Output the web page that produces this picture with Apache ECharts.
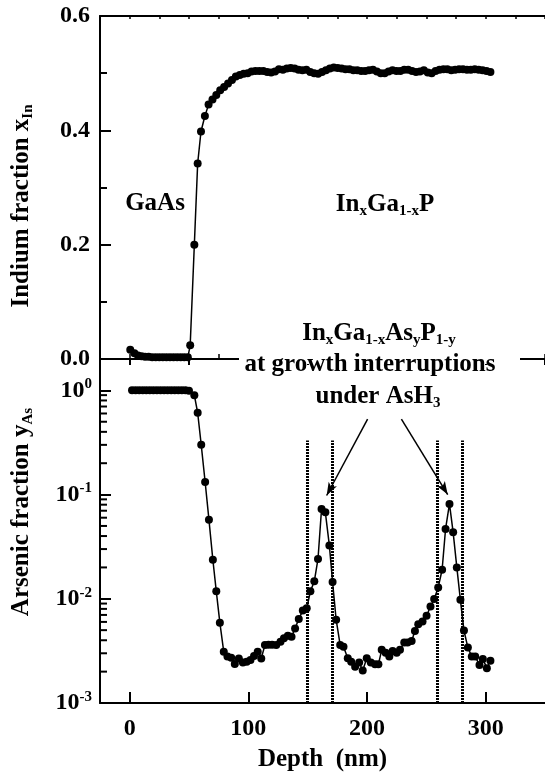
<!DOCTYPE html>
<html>
<head>
<meta charset="utf-8">
<script src="https://cdn.jsdelivr.net/npm/echarts@6/dist/echarts.min.js"></script>
<style>
html, body { margin: 0; padding: 0; background: #fff; }
#chart { width: 545px; height: 780px; }
</style>
</head>
<body>
<div id="chart"></div>
<script>
// 上图: In 含量
var inDepth = [0.5, 4, 7, 10, 13, 16, 19, 22, 25, 28, 31, 34, 37, 40, 43, 46, 49,
    51, 54.5, 57.3, 60.1, 63.4, 66.5,
    69.8, 73, 76.3, 79.6, 82.9, 86.2, 89.5, 92.8, 96.1, 99.4, 102.7, 106, 109.3, 112.6, 115.9, 119.2,
    122.5, 125.8, 129.1, 132.4, 135.7, 139, 142.3, 145.6, 148.9, 152.2, 155.5, 158.8, 162.1, 165.4,
    168.7, 172, 175.3, 178.6, 181.9, 185.2, 188.5, 191.8, 195.1, 198.4, 201.7, 205, 208.3, 211.6,
    214.9, 218.2, 221.5, 224.8, 228.1, 231.4, 234.7, 238, 241.3, 244.6, 247.9, 251.2, 254.5, 257.8,
    261.1, 264.4, 267.7, 271, 274.3, 277.6, 280.9, 284.2, 287.5, 290.8, 294.1, 297.4, 300.7, 304];
var inFraction = [0.016, 0.010, 0.006, 0.005, 0.004, 0.004, 0.003, 0.003, 0.003, 0.003, 0.003, 0.003, 0.003, 0.003, 0.003, 0.003, 0.003,
    0.024, 0.2, 0.342, 0.398, 0.425, 0.445,
    0.454, 0.462, 0.470, 0.476, 0.482, 0.488, 0.494, 0.497, 0.499, 0.500, 0.503, 0.504, 0.504, 0.504, 0.502, 0.501,
    0.503, 0.507, 0.506, 0.508, 0.509, 0.508, 0.506, 0.505, 0.506, 0.502, 0.500, 0.499, 0.502, 0.505,
    0.508, 0.510, 0.509, 0.508, 0.507, 0.507, 0.505, 0.505, 0.504, 0.504, 0.505, 0.506, 0.503, 0.500,
    0.500, 0.503, 0.505, 0.504, 0.504, 0.506, 0.506, 0.504, 0.502, 0.503, 0.505, 0.501, 0.500, 0.504,
    0.506, 0.507, 0.507, 0.505, 0.506, 0.507, 0.507, 0.506, 0.506, 0.507, 0.506, 0.505, 0.504, 0.502];

// 下图: As 含量 (对数)
var asDepth = [2, 5, 8, 11, 14, 17, 20, 23, 26, 29, 32, 35, 38, 41, 44, 47, 50,
    54.5, 57.3, 60.3, 63.6, 66.8, 70.1, 73, 76, 79.3, 82.4, 85.6, 88.6, 92, 95.4, 98.6, 101.8, 104.8,
    107.9, 110.9, 114, 117, 120, 123.5, 127.1, 130, 133.3, 136.4, 139.4, 142.5, 145.9, 149.2, 152.3,
    155.6, 158.7, 161.7, 164.9, 168.3, 171, 174, 177.4, 180.2, 183.8, 186.7, 190, 193.4, 196.4, 199.8,
    203.2, 206.8, 209.6, 212.4, 215.7, 218.8, 221.6, 225, 227.8, 231.4, 234.2, 237.6, 240.4, 243.2,
    246.8, 250.2, 253.5, 256.6, 260, 263.3, 266.2, 269.5, 272.6, 275.7, 278.7, 281.7, 285, 288.3,
    291.2, 294.8, 297.6, 301, 304];
var asFraction = [1, 1, 1, 1, 1, 1, 1, 1, 1, 1, 1, 1, 1, 1, 1, 1, 0.99,
    0.9, 0.61, 0.3, 0.132, 0.0575, 0.0237, 0.0118, 0.0059, 0.0031, 0.0028, 0.00272, 0.00237, 0.00268, 0.00245, 0.00249, 0.00258, 0.00283,
    0.0031, 0.00268, 0.0036, 0.00363, 0.00363, 0.0036, 0.00388, 0.00418, 0.00443, 0.00433, 0.0052, 0.0064, 0.0077, 0.0081, 0.0118,
    0.0147, 0.0241, 0.0729, 0.0676, 0.0324, 0.0145, 0.0063, 0.0036, 0.00347, 0.00269, 0.00249, 0.00223, 0.00245, 0.00205, 0.00269,
    0.00245, 0.00235, 0.00235, 0.00324, 0.00304, 0.00279, 0.00316, 0.00304, 0.00324, 0.0038, 0.0038, 0.00394, 0.00492, 0.00571,
    0.00605, 0.00687, 0.00843, 0.00993, 0.01285, 0.019, 0.0468, 0.0813, 0.0434, 0.02, 0.00977, 0.00496, 0.0034, 0.00279,
    0.00279, 0.00232, 0.00265, 0.00216, 0.00255];

// 生长中断区间边界 (nm)
var interruptionEdges = [150, 171, 259, 280];
// 对数轴次刻度
var logMinorTicks = [0.002, 0.003, 0.004, 0.005, 0.006, 0.007, 0.008, 0.009,
    0.02, 0.03, 0.04, 0.05, 0.06, 0.07, 0.08, 0.09,
    0.2, 0.3, 0.4, 0.5, 0.6, 0.7, 0.8, 0.9];

var FONT = 'Liberation Serif';

function zip(xs, ys) {
    return xs.map(function (x, i) { return [x, ys[i]]; });
}

function axisLineStyle() {
    return {show: true, onZero: false, lineStyle: {color: '#000', width: 2}};
}

function xAxisBase(gridIndex) {
    return {
        type: 'value', gridIndex: gridIndex, min: -25, max: 350,
        splitLine: {show: false}, axisLine: axisLineStyle(),
        axisLabel: {show: false}
    };
}

var chart = echarts.init(document.getElementById('chart'));

var xTopBottom = xAxisBase(0);
xTopBottom.minInterval = 25; xTopBottom.maxInterval = 25;
xTopBottom.axisTick = {inside: true, length: 5, lineStyle: {color: '#000', width: 1.5}};

var xTopTop = xAxisBase(0);
xTopTop.position = 'top';
xTopTop.minInterval = 25; xTopTop.maxInterval = 25;
xTopTop.axisTick = {inside: true, length: 3, lineStyle: {color: '#000', width: 1.5}};

var xBottom = xAxisBase(1);
xBottom.minInterval = 100; xBottom.maxInterval = 100;
xBottom.axisTick = {inside: true, length: 11, lineStyle: {color: '#000', width: 2}};
xBottom.axisLabel = {show: true, showMinLabel: false, showMaxLabel: false, margin: 14,
    color: '#000', fontFamily: FONT, fontWeight: 'bold', fontSize: 24};
xBottom.name = 'Depth  (nm)';
xBottom.nameLocation = 'middle';
xBottom.nameGap = 44;
xBottom.nameTextStyle = {color: '#000', fontFamily: FONT, fontWeight: 'bold', fontSize: 25};

var xBottomMinor = xAxisBase(1);
xBottomMinor.minInterval = 50; xBottomMinor.maxInterval = 50;
xBottomMinor.axisLine = {show: false, onZero: false};
xBottomMinor.axisTick = {inside: true, length: 6, lineStyle: {color: '#000', width: 2}};

var option = {
    animation: false,
    backgroundColor: '#fff',
    grid: [
        {left: 100, top: 16, width: 448, height: 343},
        {left: 100, top: 359, width: 448, height: 344}
    ],
    xAxis: [xTopBottom, xTopTop, xBottom, xBottomMinor],
    yAxis: [
        {
            type: 'value', gridIndex: 0, min: 0, max: 0.6, interval: 0.2,
            splitLine: {show: false}, axisLine: axisLineStyle(),
            axisTick: {inside: true, length: 11, lineStyle: {color: '#000', width: 2}},
            minorTick: {show: true, splitNumber: 2, length: 7, lineStyle: {color: '#000', width: 2}},
            axisLabel: {
                margin: 10, color: '#000', fontFamily: FONT, fontWeight: 'bold', fontSize: 24,
                formatter: function (v) { return v.toFixed(1); }
            }
        },
        {
            type: 'log', gridIndex: 1, min: 0.001, max: 2, logBase: 10,
            splitLine: {show: false}, axisLine: axisLineStyle(),
            axisTick: {inside: true, length: 11, lineStyle: {color: '#000', width: 2}},
            axisLabel: {
                margin: 8, showMaxLabel: false, color: '#000', fontFamily: FONT, fontWeight: 'bold', fontSize: 24,
                formatter: function (v) {
                    return '10{sup|' + Math.round(Math.log10(v)) + '}';
                },
                rich: {
                    sup: {fontFamily: FONT, fontWeight: 'bold', fontSize: 15, color: '#000', padding: [0, 0, 12, 0]}
                }
            }
        }
    ],
    series: [
        {
            type: 'line', xAxisIndex: 0, yAxisIndex: 0,
            data: zip(inDepth, inFraction),
            symbol: 'circle', symbolSize: 8,
            itemStyle: {color: '#000'},
            lineStyle: {color: '#000', width: 1.5}
        },
        {
            type: 'line', xAxisIndex: 2, yAxisIndex: 1,
            data: zip(asDepth, asFraction),
            symbol: 'circle', symbolSize: 8,
            itemStyle: {color: '#000'},
            lineStyle: {color: '#000', width: 1.5},
            markLine: {
                silent: true, symbol: ['none', 'none'], label: {show: false},
                lineStyle: {color: '#000', width: 3, type: [2, 1]},
                data: interruptionEdges.map(function (d) {
                    return [{coord: [d, 0.001]}, {coord: [d, 0.33]}];
                }).concat([
                    [{coord: [200.5, 0.53], symbol: 'none'},
                     {coord: [166, 0.098], symbol: 'arrow', symbolSize: [7, 13]}],
                    [{coord: [229, 0.53], symbol: 'none'},
                     {coord: [268, 0.1], symbol: 'arrow', symbolSize: [7, 13]}]
                ].map(function (pair) {
                    pair[0].lineStyle = {color: '#000', width: 1.5, type: 'solid'};
                    return pair;
                }))
            }
        },
        {
            // 对数轴次刻度
            type: 'custom', xAxisIndex: 2, yAxisIndex: 1, silent: true,
            data: logMinorTicks.map(function (v) { return [0, v]; }),
            renderItem: function (params, api) {
                var y = api.coord([0, api.value(1)])[1];
                var x = params.coordSys.x;
                return {
                    type: 'line',
                    shape: {x1: x, y1: y, x2: x + 7, y2: y},
                    style: {stroke: '#000', lineWidth: 2}
                };
            }
        }
    ],
    graphic: [
        {type: 'rect', z: 100, shape: {x: 239, y: 352, width: 281, height: 12}, style: {fill: '#fff'}},
        {
            type: 'text', z: 100, x: 22, y: 206, rotation: Math.PI / 2,
            style: {
                text: 'Indium fraction x{sub|In}', align: 'center', verticalAlign: 'middle',
                font: 'bold 25px "Liberation Serif"', fill: '#000',
                rich: {sub: {font: 'bold 15px "Liberation Serif"', fill: '#000', padding: [12, 0, 0, 0]}}
            }
        },
        {
            type: 'text', z: 100, x: 22, y: 512, rotation: Math.PI / 2,
            style: {
                text: 'Arsenic fraction y{sub|As}', align: 'center', verticalAlign: 'middle',
                font: 'bold 25px "Liberation Serif"', fill: '#000',
                rich: {sub: {font: 'bold 15px "Liberation Serif"', fill: '#000', padding: [12, 0, 0, 0]}}
            }
        },
        {
            type: 'text', z: 100, x: 155, y: 204,
            style: {text: 'GaAs', align: 'center', verticalAlign: 'middle',
                font: 'bold 25px "Liberation Serif"', fill: '#000'}
        },
        {
            type: 'text', z: 100, x: 385, y: 205,
            style: {
                text: 'In{sub|x}Ga{sub|1-x}P', align: 'center', verticalAlign: 'middle',
                font: 'bold 25px "Liberation Serif"', fill: '#000',
                rich: {sub: {font: 'bold 15px "Liberation Serif"', fill: '#000', padding: [12, 0, 0, 0]}}
            }
        },
        {
            type: 'text', z: 100, x: 379, y: 334,
            style: {
                text: 'In{sub|x}Ga{sub|1-x}As{sub|y}P{sub|1-y}', align: 'center', verticalAlign: 'middle',
                font: 'bold 25px "Liberation Serif"', fill: '#000',
                rich: {sub: {font: 'bold 15px "Liberation Serif"', fill: '#000', padding: [12, 0, 0, 0]}}
            }
        },
        {
            type: 'text', z: 100, x: 370, y: 365,
            style: {text: 'at growth interruptions', align: 'center', verticalAlign: 'middle',
                font: 'bold 25px "Liberation Serif"', fill: '#000'}
        },
        {
            type: 'text', z: 100, x: 378, y: 397,
            style: {
                text: 'under AsH{sub|3}', align: 'center', verticalAlign: 'middle',
                font: 'bold 25px "Liberation Serif"', fill: '#000',
                rich: {sub: {font: 'bold 15px "Liberation Serif"', fill: '#000', padding: [12, 0, 0, 0]}}
            }
        }
    ]
};

chart.setOption(option);
window.addEventListener('resize', function () {
    chart.resize();
});
</script>
</body>
</html>
